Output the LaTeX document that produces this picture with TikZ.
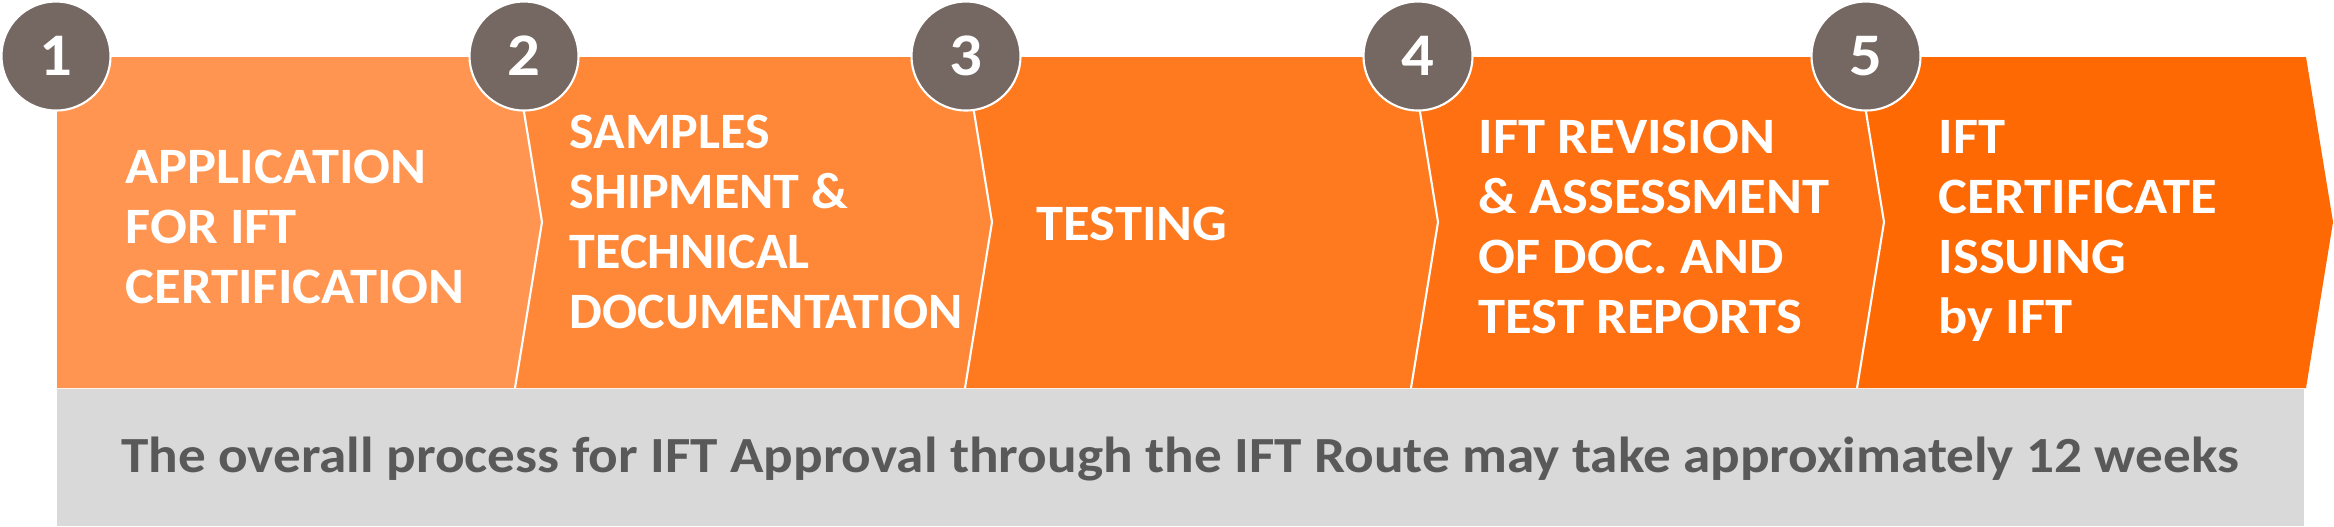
\documentclass[tikz,border=0pt]{standalone}
\usepackage{fontspec}
\setmainfont{Carlito}[FakeStretch=1.07]
\newfontfamily\notefont{Carlito}[FakeStretch=1.09]
\newfontfamily\narrowfont{Carlito}[FakeStretch=1.02]
\definecolor{stepA}{HTML}{FF9550}
\definecolor{stepB}{HTML}{FF8838}
\definecolor{stepC}{HTML}{FF7A1E}
\definecolor{stepD}{HTML}{FF7012}
\definecolor{stepE}{HTML}{FF6904}
\definecolor{numgray}{HTML}{756862}
\definecolor{notegray}{HTML}{D9D9D9}
\definecolor{notetext}{HTML}{595959}
\begin{document}
\begin{tikzpicture}[x=0.01cm,y=-0.01cm,every node/.style={font=\bfseries},
  num/.style={circle,fill=numgray,draw=white,line width=0.6pt,minimum size=1.09cm,inner sep=0pt,
    text=white,font=\bfseries\fontsize{17.2}{17.2}\selectfont},
  steptext/.style={anchor=west,align=left,inner sep=0pt,text=white,font=\bfseries\fontsize{14.5}{17.1}\selectfont}]
 \useasboundingbox (0,0) rectangle (2334,526);
 \fill[notegray] (57,389) rectangle (2304,526);
 \fill[stepA] (57,57) -- (515,57) -- (542,222) -- (515,388) -- (57,388) -- cycle;
 \fill[stepB] (515,57) -- (965,57) -- (992,222) -- (965,388) -- (515,388) -- (542,222) -- cycle;
 \fill[stepC] (965,57) -- (1411,57) -- (1438,222) -- (1411,388) -- (965,388) -- (992,222) -- cycle;
 \fill[stepD] (1411,57) -- (1857,57) -- (1884,222) -- (1857,388) -- (1411,388) -- (1438,222) -- cycle;
 \fill[stepE] (1857,57) -- (2306,57) -- (2333,222) -- (2306,388) -- (1857,388) -- (1884,222) -- cycle;
 \foreach \x in {515,965,1411,1857}
  \draw[white,line width=0.6pt] (\x,57) -- (\x+27,222) -- (\x,388);
 \node[num] (n1) at (56,56) {1};
 \node[num] (n2) at (524,56) {2};
 \node[num] (n3) at (966,56) {3};
 \node[num] (n4) at (1418,56) {4};
 \node[num] (n5) at (1866,56) {5};
 \node[steptext] (t1) at (125,227) {APPLICATION\\FOR IFT\\CERTIFICATION};
 \node[steptext,font=\narrowfont\bfseries\fontsize{14.5}{17.1}\selectfont] (t2) at (569,222)
  {SAMPLES\\SHIPMENT \&\\TECHNICAL\\DOCUMENTATION};
 \node[steptext] (t3) at (1036,224) {TESTING};
 \node[steptext] (t4) at (1478,227) {IFT REVISION\\\& ASSESSMENT\\OF DOC. AND\\TEST REPORTS};
 \node[steptext] (t5) at (1938,231) {IFT\\CERTIFICATE\\ISSUING\\by IFT};
 \node[text=notetext,font=\notefont\bfseries\fontsize{14.4}{17}\selectfont] (note) at (1180,459)
  {The overall process for IFT Approval through the IFT Route may take approximately 12 weeks};
\end{tikzpicture}
\end{document}
